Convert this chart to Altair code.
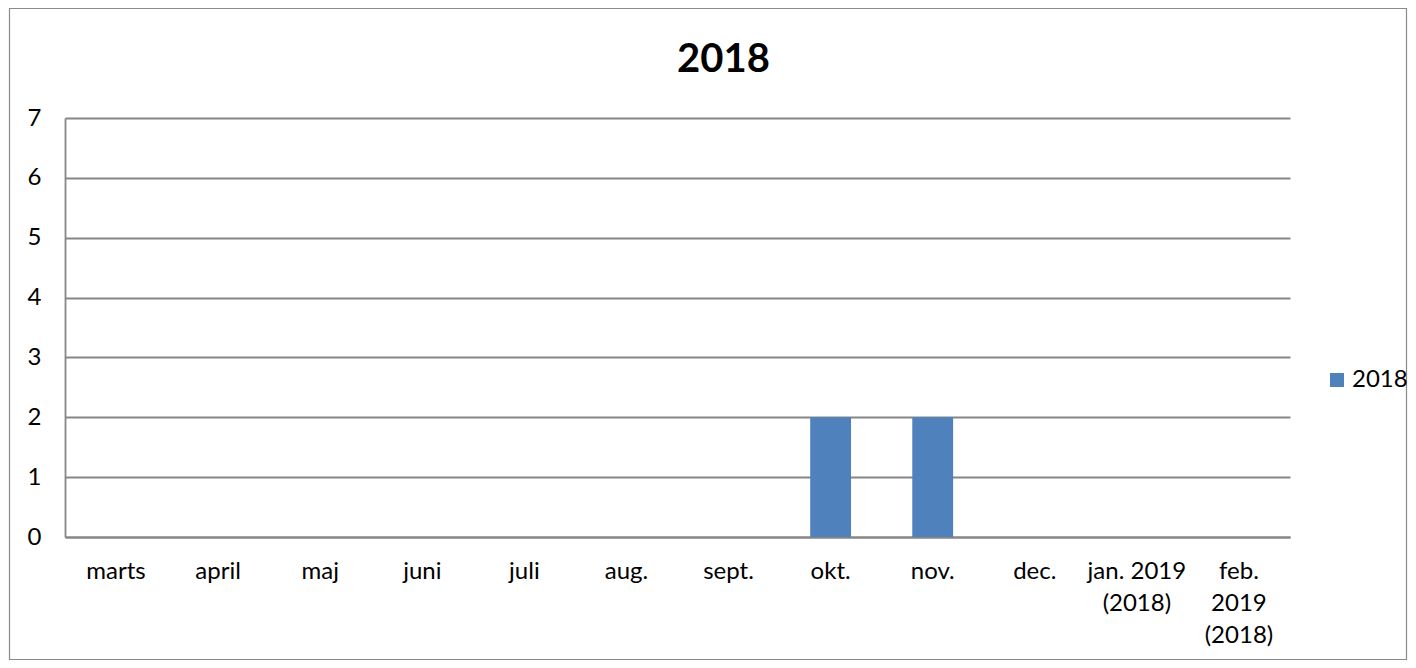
import altair as alt
import pandas as pd

months = ["marts", "april", "maj", "juni", "juli", "aug.", "sept.", "okt.", "nov.",
          "dec.", "jan. 2019\n(2018)", "feb.\n2019\n(2018)"]
values = [0, 0, 0, 0, 0, 0, 0, 2, 2, 0, 0, 0]
series = ["2018"] * len(months)
y_ticks = [0, 1, 2, 3, 4, 5, 6, 7]

df = pd.DataFrame({"month": months, "value": values, "series": series})

FONT = "Lato"
GRID = "#868686"

bars = alt.Chart(df).mark_bar(color="#4F81BD").encode(
    x=alt.X("month:N", sort=None, title=None,
            scale=alt.Scale(paddingInner=0.6, paddingOuter=0.3),
            axis=alt.Axis(labelAngle=0, ticks=False, domainColor=GRID, domainWidth=1.8,
                          labelFont=FONT, labelFontSize=24, labelColor="black",
                          labelPadding=22, labelLineHeight=32,
                          labelExpr="split(datum.label, '\\n')")),
    y=alt.Y("value:Q", title=None,
            scale=alt.Scale(domain=[0, 7], nice=False),
            axis=alt.Axis(values=y_ticks, ticks=False, domainColor=GRID, domainWidth=1.8,
                          gridColor=GRID, gridWidth=1.8, gridOpacity=1,
                          labelFont=FONT, labelFontSize=24, labelColor="black",
                          labelPadding=24)),
    color=alt.Color("series:N", title=None,
                    scale=alt.Scale(range=["#4F81BD"]),
                    legend=alt.Legend(orient="none", legendX=1260, legendY=250,
                                      symbolType="square", symbolSize=196,
                                      symbolStrokeWidth=0, labelFont=FONT,
                                      labelFontSize=24, labelColor="black",
                                      labelOffset=3)),
)

border = alt.Chart(alt.Data(values=[{}])).mark_rect(
    fill=None, stroke="#8a8a8a", strokeWidth=1.2
).encode(
    x=alt.value(-55.5), x2=alt.value(1341.5),
    y=alt.value(-109.5), y2=alt.value(541.5),
)

chart = alt.layer(border, bars).properties(
    width=1225, height=419,
    autosize=alt.AutoSizeParams(type="none"),
    padding={"left": 57, "top": 110, "right": 118, "bottom": 123},
    title=alt.Title("2018", font=FONT, fontSize=40, fontWeight="bold", color="black",
                    anchor="middle", dx=46, offset=-72),
).configure_view(stroke=None)

chart.save("out.html", embed_options={"renderer": "svg", "actions": False})
